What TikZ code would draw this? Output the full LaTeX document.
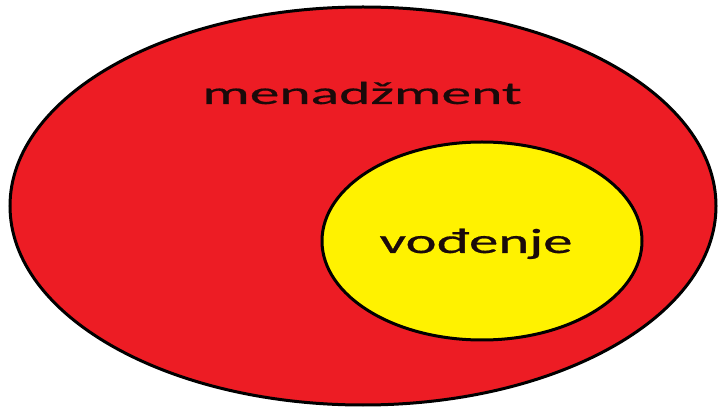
\documentclass[tikz,border=0pt]{standalone}
\usepackage{fontspec}
\setmainfont{Carlito}[FakeBold=0.5]
\definecolor{paintred}{HTML}{ED1C24}
\definecolor{paintyellow}{HTML}{FFF200}
\definecolor{txt}{HTML}{1A0A0A}
\tikzset{
  blob/.style={draw=black, line width=3pt},
  lbl/.style={anchor=base, inner sep=0pt, text=txt}
}
\begin{document}
\begin{tikzpicture}[x=1pt,y=1pt]
\useasboundingbox (0,0) rectangle (718,410);
\fill[white] (0,0) rectangle (718,410);
\draw[blob, fill=paintred] (363,204) ellipse [x radius=353, y radius=199];
\draw[blob, fill=paintyellow] (482,169) ellipse [x radius=160, y radius=99];
\node[lbl] (mgmt) at (362,306) {\scalebox{1.86}[1]{\fontsize{32}{38}\selectfont menadžment}};
\node[lbl] (lead) at (476,157) {\scalebox{1.68}[1]{\fontsize{35}{42}\selectfont vođenje}};
\end{tikzpicture}
\end{document}
